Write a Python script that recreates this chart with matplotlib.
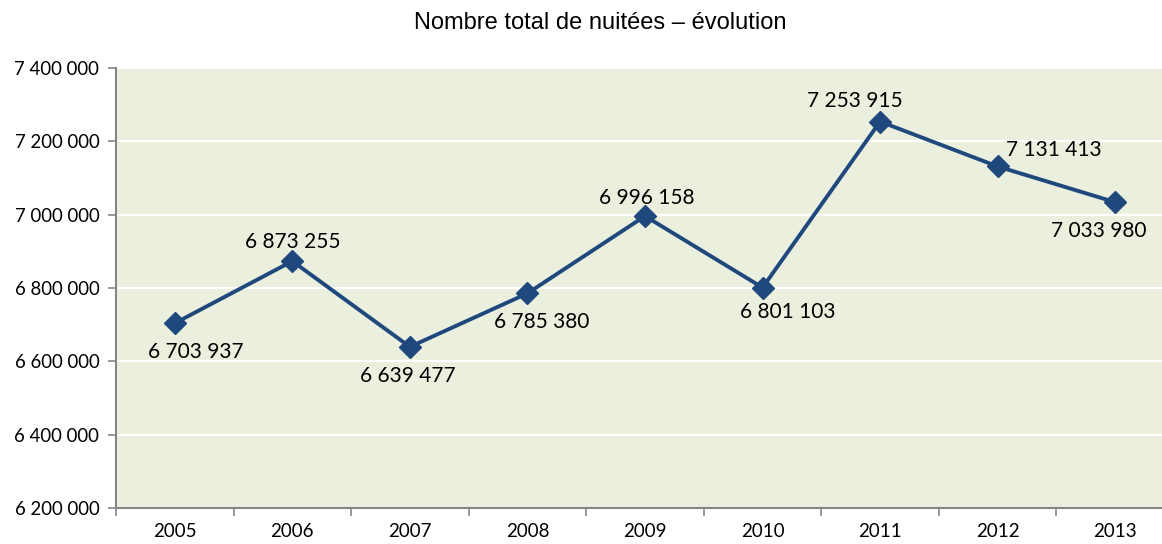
import numpy as np
import matplotlib.pyplot as plt
from matplotlib.ticker import FuncFormatter, MultipleLocator

# data
years = ['2005', '2006', '2007', '2008', '2009', '2010', '2011', '2012', '2013']
nuitees = [6703937, 6873255, 6639477, 6785380, 6996158, 6801103, 7253915, 7131413, 7033980]

# label offsets from each point, in pixels (dx right, dy down)
label_offsets = [(21, 27), (0, -21), (-2, 27), (14, 27), (2, -20),
                 (25, 22), (-25, -23), (56, -18), (-16, 27)]

LINE = '#1F497D'
BG = '#EBF0DE'
AXIS = '#868686'
LABEL_FONT = ['Lato', 'DejaVu Sans']


def fr_thousands(v, pos=None):
    return f'{int(round(v)):,}'.replace(',', ' ')


W, H, DPI = 1162, 544, 100
fig = plt.figure(figsize=(W / DPI, H / DPI), dpi=DPI)
ax = fig.add_axes([116 / W, 1 - 508 / H, (1174 - 116) / W, (508 - 68) / H])
ax.set_facecolor(BG)

x = np.arange(len(years))
ax.plot(x, nuitees, color=LINE, lw=2.8, marker='D', ms=11,
        markerfacecolor=LINE, markeredgecolor=LINE, zorder=3, clip_on=False)

for xi, v, (dx, dy) in zip(x, nuitees, label_offsets):
    ax.annotate(fr_thousands(v), (xi, v), xytext=(dx, -dy),
                textcoords='offset pixels', ha='center', va='center_baseline',
                fontsize=15, family=LABEL_FONT, color='black', zorder=4)

ax.set_ylim(6200000, 7400000)
ax.yaxis.set_major_locator(MultipleLocator(200000))
ax.yaxis.set_major_formatter(FuncFormatter(fr_thousands))
ax.grid(axis='y', color='white', lw=1.5)
ax.set_axisbelow(True)

ax.set_xlim(-0.5, len(years) - 0.5)
ax.set_xticks(x)
ax.set_xticklabels(years)
ax.set_xticks(np.arange(len(years) + 1) - 0.5, minor=True)
ax.tick_params(axis='x', which='major', length=0, pad=11, labelsize=13.5)
ax.tick_params(axis='x', which='minor', length=6, color=AXIS, width=1.2)
ax.tick_params(axis='y', length=6, color=AXIS, width=1.2, pad=6, labelsize=13.4)
for lbl in ax.get_xticklabels() + ax.get_yticklabels():
    lbl.set_family(LABEL_FONT)

for side in ('top', 'right'):
    ax.spines[side].set_visible(False)
for side in ('left', 'bottom'):
    ax.spines[side].set_color(AXIS)
    ax.spines[side].set_linewidth(1.5)

fig.text(600 / W, 1 - 23 / H, 'Nombre total de nuitées – évolution',
         ha='center', va='center', fontsize=17,
         family=['Liberation Sans', 'DejaVu Sans'])

fig.savefig('out.png', dpi=DPI, facecolor='white')
